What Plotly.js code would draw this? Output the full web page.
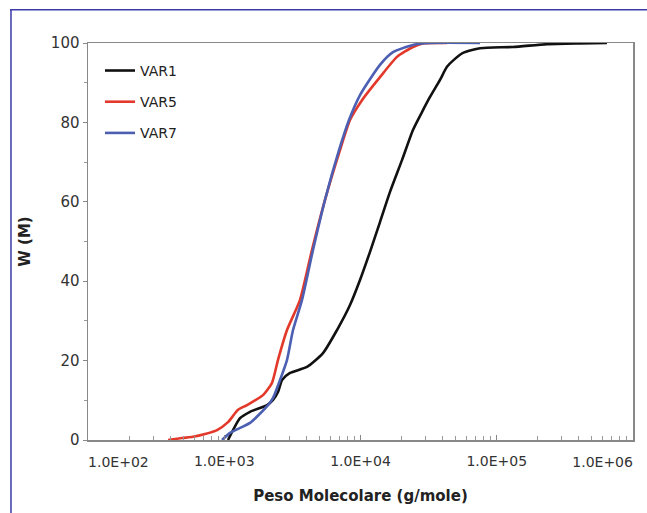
<!DOCTYPE html>
<html><head><meta charset="utf-8">
<script src="https://cdn.plot.ly/plotly-3.0.1.min.js"></script>
<style>html,body{margin:0;padding:0;background:#fff}#c{width:647px;height:513px}</style>
</head><body><div id="c"></div>
<script>
// VAR1 (black)
const var1M = [1065,1159,1305,1545,2060,2280,2480,2654,3038,4048,5306,6722,8375,9916,11744,13905,16468,20163,24283,28278,32367,38330,43138,49381,56530,75380,131600,233700,408300,644700];
const var1W = [0,2.5,5.5,7.1,8.8,10.1,12.1,15.1,16.9,18.4,21.9,27.7,34,40.3,47.4,54.9,62.5,70.5,78.1,82.6,86.4,90.7,94.0,96.0,97.5,98.7,99.0,99.7,99.9,100];
// VAR5 (red)
const var5M = [387,490,590,722,885,1065,1262,1469,1925,2241,2480,2888,3597,4406,5489,7069,8375,10256,13905,18538,24283,28754,43138];
const var5W = [0,0.5,0.8,1.5,2.5,4.5,7.6,8.8,11.3,14.4,20.2,27.7,35.3,47.9,60.5,73,80.6,85.6,91.4,96.5,99.0,99.9,100];
// VAR7 (blue)
const var7M = [963,1102,1545,2096,2280,2566,2888,3196,3721,4481,5489,6955,8235,9916,13905,17315,24283,32367,75380];
const var7W = [0,1.8,4.3,8.8,10.6,15.1,20.2,27.7,35.3,47.9,60.5,73,80.6,86.9,94.5,97.7,99.5,100,100];

const seriesNames = ['VAR1','VAR5','VAR7'];
const xTickVals = [1e2,1e3,1e4,1e5,1e6];
const xTickText = ['1.0E+02','1.0E+03','1.0E+04','1.0E+05','1.0E+06'];
const yTickVals = [0,20,40,60,80,100];

const minorX = [];
for (let d = 2; d < 6; d++) for (let k = 2; k <= 9; k++) minorX.push(k * Math.pow(10, d));
const last = xTickVals.length - 1;
const midText = xTickText.map((t,i) => (i === 0 || i === last) ? '' : t);

const font = 'DejaVu Sans, sans-serif';
const tickFont = {family:font,size:14,color:'#333'};
const xRange = [1.9995,6.0005];
const mk = (x,y,name,color,g)=>({x:x,y:y,name:name,type:'scatter',mode:'lines',legendgroup:g,
  line:{color:color,width:2.6,shape:'spline',smoothing:0.6},hoverinfo:'skip'});
// empty helper traces so the edge-label axes get drawn
const holder = ax => ({x:[xTickVals[0], xTickVals[last]], y:[null,null], xaxis:ax, yaxis:'y',
  type:'scatter', mode:'lines', showlegend:false, hoverinfo:'skip', line:{width:0}});
const data = [
  mk(var1M,var1W,seriesNames[0],'#111111','a'),
  mk(var5M,var5W,seriesNames[1],'#e2392b','b'),
  mk(var7M,var7W,seriesNames[2],'#4c5fb2','c'),
  holder('x2'), holder('x3')
];
const edgeAxis = (val, txt, pos) => ({type:'log',range:xRange,overlaying:'x',anchor:'y',side:'bottom',
  tickmode:'array',tickvals:[val],ticktext:[txt],ticklabelposition:pos,ticklabeloverflow:'allow',
  ticks:'',showline:false,showgrid:false,zeroline:false,tickfont:tickFont,ticklabelstandoff:12});
const layout = {
  width:647,height:513,
  margin:{l:88,r:14,t:43,b:73},
  paper_bgcolor:'#fff',plot_bgcolor:'#fff',
  showlegend:true,
  legend:{x:0.022,y:0.97,xanchor:'left',yanchor:'top',bgcolor:'rgba(0,0,0,0)',
    font:{family:font,size:14,color:'#222'},traceorder:'grouped',tracegroupgap:10,itemwidth:30},
  xaxis:{type:'log',range:xRange,tickmode:'array',tickvals:xTickVals,ticktext:midText,
    ticks:'inside',ticklen:5,tickcolor:'#888',showgrid:false,zeroline:false,
    showline:true,linecolor:'#888',linewidth:1.5,mirror:true,
    minor:{tickmode:'array',tickvals:minorX,ticks:'inside',ticklen:4,tickcolor:'#999',showgrid:false},
    tickfont:tickFont,ticklabelstandoff:8,
    title:{text:'<b>Peso Molecolare (g/mole)</b>',font:{family:font,size:15,color:'#222'},standoff:22}},
  xaxis2: edgeAxis(xTickVals[0], xTickText[0], 'outside right'),
  xaxis3: edgeAxis(xTickVals[last], xTickText[last], 'outside left'),
  yaxis:{range:[0,100],tickvals:yTickVals,ticks:'outside',ticklen:4,tickcolor:'#888',
    showgrid:false,zeroline:false,showline:true,linecolor:'#888',linewidth:1.5,mirror:true,
    minor:{dtick:10,ticks:'outside',ticklen:3,tickcolor:'#999'},
    tickfont:{family:font,size:15,color:'#333'},
    title:{text:'<b>W (M)</b>',font:{family:font,size:15,color:'#222'},standoff:16}},
  shapes:[
    {type:'line',xref:'paper',yref:'paper',x0:-0.143,x1:1.03,y0:1.0835,y1:1.0835,line:{color:'#3a3aa8',width:1.5}},
    {type:'line',xref:'paper',yref:'paper',x0:-0.1413,x1:-0.1413,y0:1.0835,y1:-0.2,line:{color:'#3a3aa8',width:1.5}}
  ]
};
Plotly.newPlot('c',data,layout,{displayModeBar:false,staticPlot:true});
</script></body></html>
